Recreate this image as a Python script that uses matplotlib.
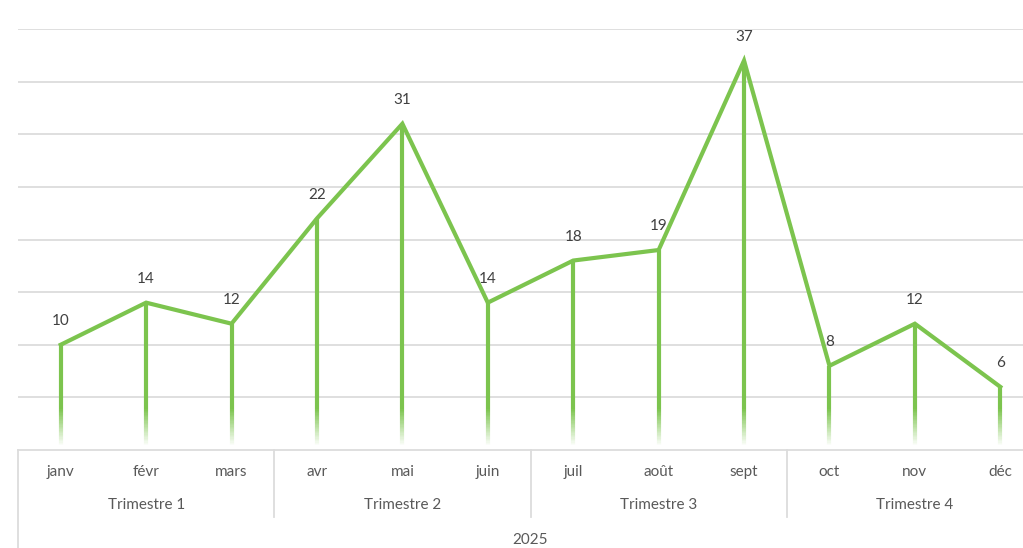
import numpy as np
import matplotlib
matplotlib.use('Agg')
from matplotlib import pyplot
from matplotlib.collections import LineCollection
from matplotlib.colors import to_rgb
from matplotlib.transforms import blended_transform_factory

pyplot.rcParams['font.family'] = ['Lato', 'DejaVu Sans']

months = ['janv', 'févr', 'mars', 'avr', 'mai', 'juin',
          'juil', 'août', 'sept', 'oct', 'nov', 'déc']
values = [10, 14, 12, 22, 31, 14, 18, 19, 37, 8, 12, 6]
quarters = ['Trimestre 1', 'Trimestre 2', 'Trimestre 3', 'Trimestre 4']
year = '2025'

GREEN = '#7cc44e'
GRID = '#dcdcdc'
TEXT = '#595959'
FADE_TOP = 4.0

fig = pyplot.figure(figsize=(10.23, 5.48), dpi=100)
W, H = 1023., 548.
ax = fig.add_axes([18 / W, (H - 450) / H, (1043 - 18) / W, 421 / H])

x = np.arange(len(values))
ax.set_xlim(-0.5, len(values) - 0.5)
ax.set_ylim(0, 40)
ax.set_yticks(np.arange(5, 41, 5))
ax.yaxis.grid(True, color=GRID, lw=1.3)
ax.set_axisbelow(True)
ax.tick_params(left=False, labelleft=False, bottom=False, labelbottom=False)
for s in ['left', 'right', 'top']:
    ax.spines[s].set_visible(False)
ax.spines['bottom'].set_color(GRID)
ax.spines['bottom'].set_linewidth(1.3)

# drop lines: solid then fading to white near the axis
green = np.array(to_rgb(GREEN))
white = np.ones(3)
for xi, v in zip(x, values):
    ax.plot([xi, xi], [v, FADE_TOP], color=GREEN, lw=3, solid_capstyle='butt', zorder=2)
    ys = np.linspace(FADE_TOP, 0.3, 30)
    segs = [[(xi, ys[i]), (xi, ys[i + 1])] for i in range(len(ys) - 1)]
    t = np.linspace(0, 1, len(segs))
    cols = [green * (1 - k) + white * k for k in t]
    ax.add_collection(LineCollection(segs, colors=cols, lw=3, capstyle='butt', zorder=2))

ax.plot(x, values, color=GREEN, lw=3, solid_joinstyle='miter', zorder=3)

for xi, v in zip(x, values):
    ax.annotate(str(v), (xi, v), xytext=(0, 17), textcoords='offset points',
                ha='center', va='center', fontsize=11, color='#404040', zorder=4)

# multi-level category axis
tr = blended_transform_factory(ax.transData, fig.transFigure)
for xi, m in zip(x, months):
    fig.text(xi, (H - 472) / H, m, transform=tr, ha='center', va='center',
             fontsize=11, color=TEXT)
for qi, q in enumerate(quarters):
    fig.text(qi * 3 + 1, (H - 505) / H, q, transform=tr, ha='center', va='center',
             fontsize=11, color=TEXT)
    xs = qi * 3 - 0.5
    bottom = 0 if qi == 0 else (H - 517) / H
    ax.plot([xs, xs], [(H - 450) / H, bottom], transform=tr, color=GRID,
            lw=1.3, clip_on=False)
fig.text(5.5, (H - 540) / H, year, transform=tr, ha='center', va='center',
         fontsize=11, color=TEXT)

fig.savefig('out.png', dpi=100)
